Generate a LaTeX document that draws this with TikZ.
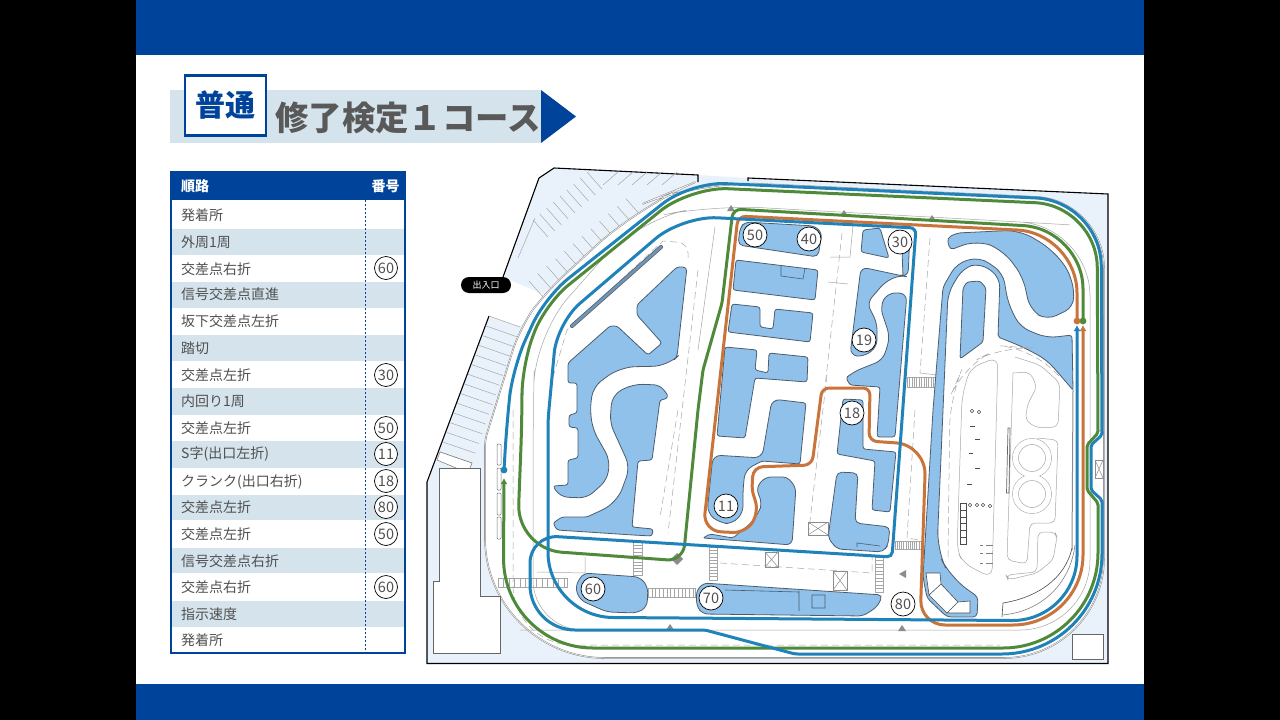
\documentclass[tikz,border=0pt]{standalone}
\usepackage{fontspec}
\setmainfont{Noto Sans CJK JP}
\usetikzlibrary{arrows.meta,calc}
\definecolor{navy}{HTML}{00439B}
\definecolor{pale}{HTML}{D5E4EC}
\definecolor{ground}{HTML}{E9F2FB}
\definecolor{lake}{HTML}{8FC1EA}
\definecolor{rim}{HTML}{4D5D6E}
\definecolor{routeblue}{HTML}{1F82B9}
\definecolor{routegreen}{HTML}{4F8A3A}
\definecolor{routeorange}{HTML}{C9743A}
\definecolor{ink}{HTML}{505050}
\tikzset{
  rc/.style={rounded corners=#1pt},
  island/.style={fill=lake,draw=rim,line width=.8pt,rounded corners=2.5pt},
  plan/.style={draw=black!35,line width=.5pt},
  dashplan/.style={draw=black!35,line width=.5pt,dash pattern=on 7pt off 4pt},
  route/.style={line width=3pt,{Latex[length=6pt,width=7pt]}-},
  numcircle/.style={circle,draw=black,fill=white,line width=.7pt,minimum size=#1pt,inner sep=0pt,font=\fontsize{14.5}{14.5}\selectfont,text=ink},
  rowtext/.style={anchor=west,text=ink,font=\fontsize{14}{14}\selectfont},
}
\begin{document}
\begin{tikzpicture}[x=1pt,y=-1pt]
  \useasboundingbox (0,0) rectangle (1280,720);
  \fill[black] (0,0) rectangle (1280,720);
  \fill[white] (136,0) rectangle (1144,720);
  \fill[navy] (136,0) rectangle (1144,55);
  \fill[navy] (136,684) rectangle (1144,720);

  % title
  \fill[pale] (170,90) rectangle (541,143);
  \fill[navy] (541,90) -- (576,116.5) -- (541,143) -- cycle;
  \node[draw=navy,line width=2.5pt,fill=white,minimum width=81pt,minimum height=60pt,inner sep=0pt,text=navy,font=\fontsize{30}{30}\selectfont\bfseries] (grade) at (225.5,105.5) {普通};
  \node[anchor=west,inner sep=0pt,text=black!65,font=\fontsize{33.4}{33.4}\selectfont\bfseries] (title) at (275,117.5) {修了検定１コース};

  % table
  \fill[navy] (171,172) rectangle (405,200);
  \node[anchor=west,text=white,font=\fontsize{14}{14}\selectfont\bfseries] (head1) at (177.5,186.5) {順路};
  \node[text=white,font=\fontsize{14}{14}\selectfont\bfseries] (head2) at (385.5,186.5) {番号};
  \foreach \ya/\yb/\yt/\col/\txt in {
    200/229/215/white/発着所, 229/255/242/pale/外周1周, 255/282/269/white/交差点右折,
    282/308/294/pale/信号交差点直進, 308/335/321/white/坂下交差点左折, 335/361/348/pale/踏切,
    361/388/375/white/交差点左折, 388/415/401/pale/内回り1周, 415/441/428/white/交差点左折,
    441/468/454/pale/S字(出口左折), 468/495/482/white/クランク(出口右折), 495/520/507/pale/交差点左折,
    520/548/534/white/交差点左折, 548/573/561/pale/信号交差点右折, 573/601/587/white/交差点右折,
    601/627/614/pale/指示速度, 627/653/640/white/発着所} {
    \fill[\col] (171,\ya) rectangle (405,\yb);
    \node[rowtext,inner sep=0pt] (row\ya) at (181,\yt) {\txt};
  }
  \draw[navy,line width=1.3pt,dash pattern=on 2pt off 2pt] (365.5,200) -- (365.5,653);
  \draw[navy,line width=1.6pt] (171,172) rectangle (405,653);
  \foreach \yt/\num in {268/60,375/30,428/50,454/11,481/18,507/80,534/50,587/60}
    \node[numcircle=23] (col\yt) at (386,\yt) {\num};

  % ground
  \fill[ground] (427,664) -- (427,482) -- (489,316) -- (520,327) -- (545,295) -- (503,277) -- (539,178) -- (554,168) -- (698,175) -- (748,178) -- (1108,194) -- (1108,663) -- cycle;
  \draw[black,line width=1.1pt] (489,316) -- (427,482) -- (427,663.5) -- (1108,663.5) -- (1108,194) -- (748,178) -- (748,181);
  \draw[black,line width=1.1pt] (503,277) -- (539,178) -- (554,168) -- (698,175) -- (698,182);
  \node[fill=black,rounded corners=8pt,minimum width=50pt,minimum height=16pt,inner sep=0pt,text=white,font=\fontsize{9}{9}\selectfont] (gate) at (486,285) {出入口};

  % parking
  \foreach \t in {0,.0714,...,1}
    \draw[plan] ($(489,316)!\t!(440,452)$) -- ($(520,327)!\t!(472,463)$);
  \fill[white,draw=black!55,line width=.5pt] (440,452) -- (472,463) -- (468,473) -- (437,460) -- cycle;
  \foreach \t in {0,.125,...,1}
    \draw[plan] ($(533,220)!\t!(587,172)$) -- +(15,17);
  \foreach \t in {0,.09,...,1}
    \draw[plan] ($(529,281)!\t!(627,198)$) -- +(15,17);
  \foreach \xa in {618,633,647,662,677}
    \draw[plan] (\xa,172) -- +(-15,13);
  \draw[plan] (518,258) -- (535,218);

  % road
  \path[fill=white,draw=black!45,line width=1.6pt] (698,181) -- (1037,197) [rc=68] -- (1104,200) [rc=100] -- (1104,658) [rc=120] -- (485,658) [rc=6] -- (485,440) [rc=25] -- (520,327) -- (545,293) [rc=60] -- (640,205) -- cycle;
  \path[draw=white,line width=.5pt] (698,181) -- (1037,197) [rc=68] -- (1104,200) [rc=100] -- (1104,658) [rc=120] -- (485,658) [rc=6] -- (485,440) [rc=25] -- (520,327) -- (545,293) [rc=60] -- (640,205) -- cycle;
  \draw[plan,rc=50] (533,420) -- (535,335) -- (637,220) -- (713,205) -- (1020,222) [rc=70] -- (1090,226) -- (1090,630) [rc=80] -- (600,630) [rc=50] -- (533,630) -- cycle;

  % building
  \draw[fill=white,draw=black!60,line width=.6pt] (439,468) -- (480,468) -- (480,596) -- (500,596) -- (500,653) -- (433,653) -- (433,581) -- (439,581) -- cycle;
  \draw[fill=white,draw=black!60,line width=.6pt] (1072,634) rectangle (1103,659);
  \foreach \ya/\yb in {444/465,468/490,493/515,517/539}
    \draw[black!55,line width=.5pt,rounded corners=1pt] (497,\ya) rectangle (501,\yb);

  % road marks
  \draw[dashplan] (513,410) -- (513,567) [rc=60] -- (513,645) -- (1000,645);
  \draw[dashplan] (553,377) -- (567,330) -- (663,241) [rc=10] -- (688,243) -- (688,262);
  \draw[dashplan] (698,270) -- (668,533);
  \draw[dashplan] (678,410) -- (660,517);
  \draw[dashplan] (842,233) -- (825,387);
  \draw[dashplan] (827,375) -- (808,538);
  \draw[dashplan] (930,238) -- (920,373);
  \draw[dashplan] (915,410) -- (907,538) -- (920,540);
  \draw[dashplan] (720,563) -- (872,573) -- (872,557);
  \draw[dashplan] (577,553) -- (627,557);
  \draw[plan] (715,227) -- (698,350);
  \draw[plan] (920,373) -- (937,375);
  \draw[plan] (853,225) -- (850,257) -- (830,257);
  \draw[plan] (828,282) -- (848,284);
  \draw[plan] (585,557) -- (585,573) -- (537,572);
  \foreach \xa/\ya/\xb/\yb in {498/578/567/587,648/588/695/597,895/541/922/549,907/377/937/387} {
    \draw[plan] (\xa,\ya) rectangle (\xb,\yb);
    \foreach \t in {0,.08,...,1}
      \draw[plan] ($(\xa,\ya)!\t!(\xb,\ya)$) -- ($(\xa,\yb)!\t!(\xb,\yb)$);
  }
  \foreach \xa/\ya/\xb/\yb in {633/542/642/575,709/547/717/580,875/557/883/592} {
    \draw[plan] (\xa,\ya) rectangle (\xb,\yb);
    \foreach \t in {0,.1,...,1}
      \draw[plan] ($(\xa,\ya)!\t!(\xa,\yb)$) -- ($(\xb,\ya)!\t!(\xb,\yb)$);
  }
  \foreach \xa/\ya/\xb/\yb in {808/522/828/535,833/571/847/590,765/552/778/567,1095/460/1103/478} {
    \draw[plan,black!45] (\xa,\ya) rectangle (\xb,\yb);
    \draw[plan,black!45] (\xa,\ya) -- (\xb,\yb) (\xa,\yb) -- (\xb,\ya);
  }
  \fill[black!45] (677,553) -- (683,559) -- (677,565) -- (671,559) -- cycle;
  \foreach \x/\y in {670/627,902/628,731/208,844/213,932/218}
    \fill[black!45] (\x-4,\y+3) -- (\x+4,\y+3) -- (\x,\y-3) -- cycle;
  \fill[black!45] (899,574) -- (906,570) -- (906,578) -- cycle;

  % islands
  \draw[island] (687,267) -- (677,267) -- (637,305) -- (637,315) -- (662,343) -- (648,355) -- (617,326) -- (610,326) -- (568,363) -- (568,383) -- (577,383) -- (577,413) -- (569,415) -- (569,427) -- (578,428) -- (578,458) -- (568,460) -- (568,485) -- (553,486) [rc=8] -- (560,497) -- (587,498) -- (607,480) [rc=9] -- (610,460) -- (593,430) -- (590,410) [rc=10] -- (593,387) [rc=15] -- (620,367) -- (668,366) [rc=4] -- (677,357) -- cycle;
  \draw[island] (670,398) -- (660,400) -- (652,460) -- (638,461) -- (632,527) -- (653,529) -- (652,536) -- (633,535) -- (557,530) -- (553,523) -- (562,517) -- (587,517) [rc=15] -- (617,503) [rc=10] -- (630,467) [rc=8] -- (610,423) [rc=10] -- (612,395) [rc=10] -- (633,384) [rc=6] -- (660,385) -- cycle;
  \draw[rim,line width=4pt,line cap=round] (661,247) -- (572,326);
  \draw[rim!45!lake,line width=2.6pt,line cap=round] (661,247) -- (572,326);
  \draw[island,rc=6] (583,573) -- (640,577) -- (648,587) -- (647,607) -- (637,613) -- (607,612) -- (580,600) -- (575,587) -- cycle;
  \draw[island,rc=5] (703,583) -- (883,595) -- (877,607) -- (863,616) -- (703,614) -- (697,607) -- (696,592) -- cycle;
  \draw[rim,line width=.6pt] (812,595) rectangle (825,608) (799,591) -- (799,611) (725,590) -- (799,592);
  \draw[island,rc=5] (745,222) -- (815,226) -- (822,233) -- (818,257) -- (738,245) -- (740,228) -- cycle;
  \draw[island] (736,260) -- (818,270) -- (815,300) -- (733,290) -- cycle;
  \draw[rim,line width=.6pt] (781,265) -- (781,276) -- (803,279) -- (805,268);
  \draw[island] (732,304) -- (760,307) -- (760,327) -- (773,329) -- (775,309) -- (813,313) -- (810,342) -- (728,332) -- cycle;
  \draw[island] (725,347) -- (757,350) -- (755,370) -- (768,373) -- (769,353) -- (808,357) -- (807,382) -- (755,378) -- (745,438) -- (717,436) -- cycle;
  \draw[island] (772,399) -- (806,403) -- (800,464) -- (762,461) [rc=8] -- (745,470) [rc=6] -- (743,490) -- (743,512) [rc=8] -- (733,524) -- (720,523) [rc=8] -- (707,513) -- (713,455) -- (762,458) -- cycle;
  \draw[island,rc=4] (765,477) -- (787,477) [rc=6] -- (796,487) -- (792,545) [rc=2] -- (703,538) -- (710,534) -- (733,538) [rc=12] -- (757,518) [rc=6] -- (762,503) -- (756,488) -- cycle;
  \draw[island,rc=5] (837,472) -- (858,473) -- (855,523) -- (890,527) -- (888,545) -- (883,552) -- (837,549) -- (828,538) -- cycle;
  \draw[rim,line width=.6pt] (857,547) -- (857,543) -- (880,546);
  \draw[island] (843,399) -- (863,400) -- (863,449) -- (896,452) -- (890,512) -- (872,510) -- (875,461) -- (837,454) -- cycle;
  \draw[island] (907,293) -- (895,437) -- (877,437) -- (880,387) -- (850,385) -- (846,378) [rc=8] -- (853,372) -- (883,360) [rc=8] -- (890,337) -- (880,307) -- (887,293) -- cycle;
  \draw[island] (863,230) -- (880,228) -- (889,258) -- (861,252) -- cycle;
  \draw[island,rc=7] (895,230) -- (910,232) -- (908,277) -- (900,275) -- (885,282) -- (867,303) -- (877,323) -- (877,347) -- (863,357) -- (850,355) -- (861,267) [rc=2] -- (903,276) -- (902,250) -- cycle;
  \draw[island,rc=4] (947,238) -- (957,233) [rc=15] -- (1020,230) -- (1053,250) -- (1073,277) [rc=10] -- (1074,307) -- (1047,320) [rc=12] -- (1030,310) -- (1023,277) [rc=15] -- (1003,250) -- (977,240) [rc=4] -- (950,250) -- cycle;
  \draw[island,rc=10] (943,287) -- (957,263) -- (980,257) -- (1003,273) -- (1008,303) -- (1020,327) -- (1047,338) [rc=3] -- (1072,335) [rc=1] -- (1073,390) [rc=10] -- (1047,360) -- (1023,347) [rc=2] -- (998,337) [rc=10] -- (1000,277) -- (980,263) -- (963,268) -- (948,293) -- (943,410) [rc=20] -- (937,550) -- (950,577) [rc=4] -- (978,597) -- (977,617) -- (947,617) -- (927,598) -- (923,577) -- (933,410) -- cycle;
  \draw[island] (967,282) -- (980,281) -- (986,288) -- (983,342) -- (960,359) -- (963,288) -- cycle;
  \draw[fill=white,draw=black!70,line width=.6pt] (926,573) -- (940,573) -- (941,584) -- (929,595) -- cycle (941,584) -- (958,602) -- (947,613) -- (929,595) -- cycle (958,602) -- (970,601) -- (970,613) -- (947,613) -- cycle;

  % oval
  \draw[dashplan,rc=30] (948,557) -- (950,397) -- (963,367) -- (1003,346) -- (1030,348) -- (1060,377);
  \draw[plan,rc=10] (998,357) -- (970,368) -- (962,397) -- (957,550) -- (963,563) -- (992,578) -- cycle;
  \draw[plan,rc=5] (1013,373) -- (1007,560) -- (1027,564) -- (1030,523) -- (1055,523) -- (1058,440) -- (1037,438);
  \draw[plan,rc=6] (1015,357) -- (1040,365) -- (1060,383) -- (1058,427) -- (1037,428) -- (1025,420) -- (1028,403) -- (1037,387) -- (1030,372) -- (1013,373);
  \draw[plan] (1032,458) circle (19.5pt) (1032,494) circle (19.5pt);
  \fill[white] (1032,458) circle (19pt) (1032,494) circle (19pt);
  \foreach \cy in {458,494}
    \draw[plan] (1032,\cy) circle (13.5pt);
  \draw[plan,rc=5] (1038,532) -- (1055,532) -- (1057,537) -- (1053,560) -- (1037,573) -- (1008,580) -- (1006,575) -- (1037,572) -- cycle;
  \draw[black!45,line width=1pt] (1073,390) -- (1072,550);
  \draw[black!70,line width=.6pt] (1072,548) .. controls (1065,580) and (1035,598) .. (1003,603) -- (1002,617);
  \draw[black!50,line width=.6pt] (1002,615) .. controls (1040,612) and (1070,585) .. (1075,545);
  \draw[black!60,line width=.7pt] (1008,428) -- (1006.5,493) -- (1009,493) -- (1010,428) -- cycle;
  \foreach \sy in {503,509.9,...,544}
    \draw[black!70,line width=.5pt] (960,\sy) rectangle (966,\sy+6.9);
  \foreach \x/\y in {972/411,979/412,970/505,977/505,983/505,990/506}
    \draw[black!70,line width=.5pt] (\x,\y) circle (1.8pt);
  \foreach \xa/\xb/\y in {970/975/426,975/980/439,969/973/453,975/980/468,967/972/484}
    \draw[black!70,line width=.6pt] (\xa,\y) -- (\xb,\y);
  \foreach \y in {545,553,563}
    \draw[black!50,line width=.6pt] (980,\y) -- (983,\y) (986,\y) -- (993,\y);

  % routes
  \draw[route,routegreen,rc=90] (504,478) -- (503,648) [rc=95] -- (1098,648) [rc=2] -- (1098,503) -- (1087,490) -- (1087,445) -- (1098,433) [rc=62] -- (1097,205.5) [rc=38] -- (690,187) [rc=30] -- (545,304) -- (522,365) -- (522,420) [rc=45] -- (517,549) [rc=16] -- (683,561) [rc=3] -- (698,410) -- (703,370) -- (722,303) [rc=8] -- (733,209) [rc=60] -- (1083,229) -- (1083,321);
  \draw[route,routeorange,rc=70] (1083,325) -- (1083,625) [rc=25] -- (920,625) [rc=30] -- (926,445) [rc=8] -- (869,441) [rc=7] -- (870,388) -- (822,388) [rc=8] -- (812,465) [rc=10] -- (753,467) [rc=4] -- (752,490) [rc=12] -- (759,513) -- (745,533) [rc=18] -- (703,531) [rc=8] -- (738,216) [rc=60] -- (1077,233) -- (1077,321);
  \draw[route,routeblue,rc=65] (1077,325) -- (1077,621) [rc=65] -- (548,617) [rc=8] -- (548,420) [rc=30] -- (557,323) [rc=35] -- (682,216) [rc=6] -- (916,228) [rc=5] -- (892,557) [rc=28] -- (530,535) [rc=45] -- (530,630) [rc=3] -- (705,630) -- (795,654) [rc=100] -- (1102,654) [rc=2] -- (1102,500) -- (1091,490) -- (1091,445) -- (1102,435) [rc=65] -- (1101,201) [rc=35] -- (690,182) [rc=30] -- (545,297) -- (513,367) -- (507,420) -- (504,470);
  \fill[routegreen] (1083,321) circle (3.4pt);
  \fill[routeorange] (1077,321) circle (3.4pt);
  \fill[routeblue] (504,470) circle (3.4pt);

  % numbers
  \foreach \x/\y/\num in {755/235/50,809/239/40,900/242/30,864/340/19,852/413/18,726/506/11,593/589/60,711/598/70,903/604/80}
    \node[numcircle=24] (mark\num) at (\x,\y) {\num};
\end{tikzpicture}
\end{document}
